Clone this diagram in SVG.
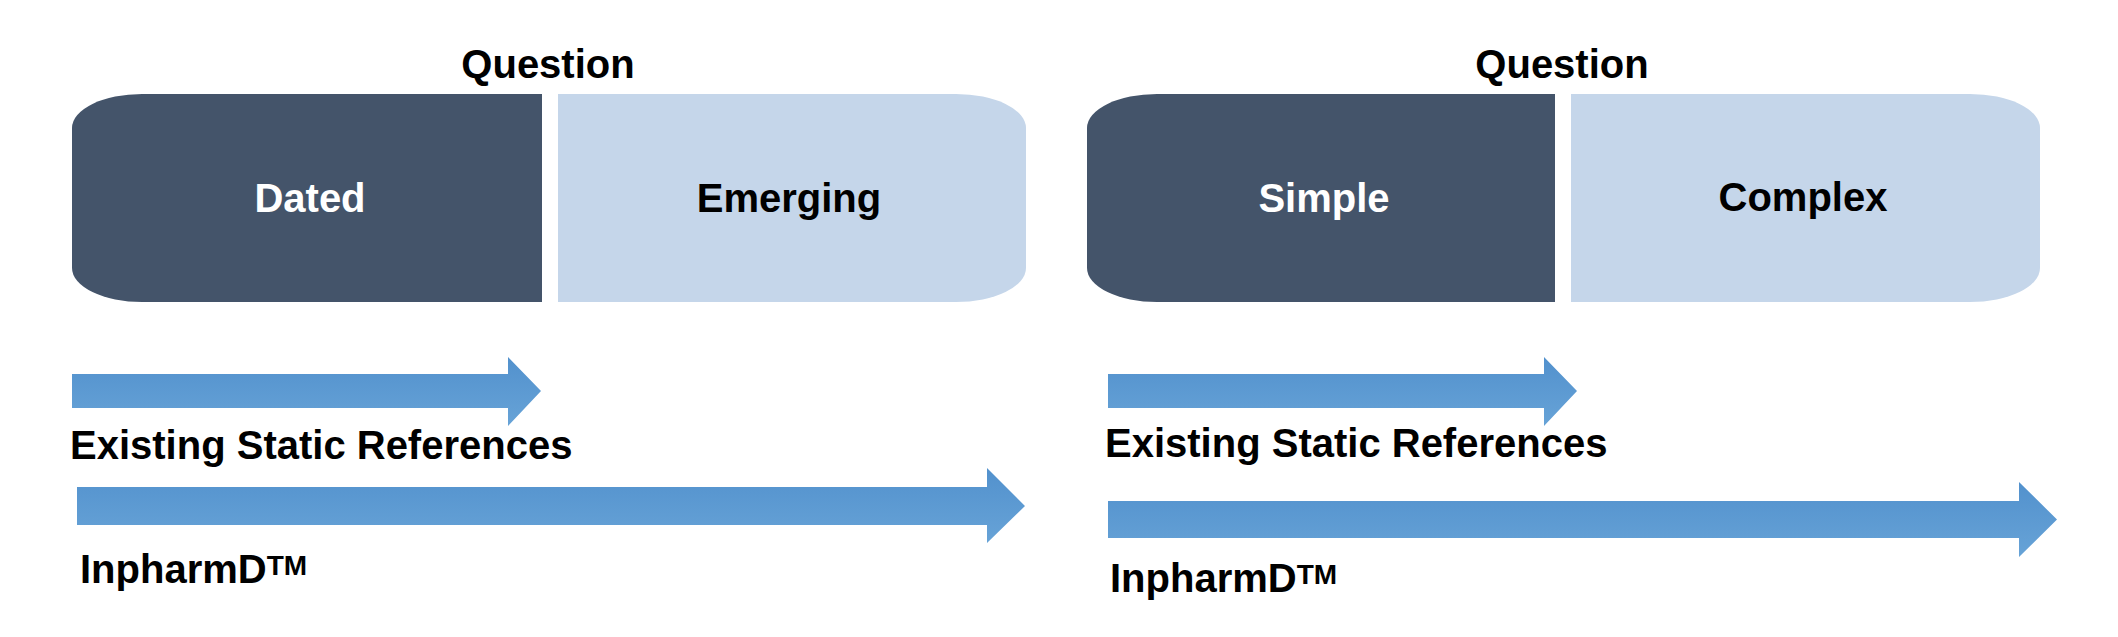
<svg xmlns="http://www.w3.org/2000/svg" width="2118" height="637" viewBox="0 0 2118 637">
<defs>
<linearGradient id="ag" x1="0" y1="0" x2="0" y2="1">
<stop offset="0" stop-color="#5291cd"/>
<stop offset="1" stop-color="#67a3d7"/>
</linearGradient>
<style>
text{font-family:"Liberation Sans",Arial,sans-serif;font-weight:bold;font-size:40px;fill:#000}
.dark{fill:#44546a}
.light{fill:#c5d6ea}
.w{fill:#fff}
.c{text-anchor:middle}
.arrow{fill:url(#ag)}
.tm{font-size:28px}
</style>
</defs>
<rect width="2118" height="637" fill="#fff"/>
<g id="title-left"><text class="c" x="548" y="78">Question</text></g>
<g id="title-right"><text class="c" x="1562" y="78">Question</text></g>
<g id="dated">
<path class="dark" d="M542 94 H142 A70 34 0 0 0 72 128 V268 A70 34 0 0 0 142 302 H542 Z"/>
<text class="c w" x="310" y="212">Dated</text>
</g>
<g id="emerging">
<path class="light" d="M558 94 H956 A70 34 0 0 1 1026 128 V268 A70 34 0 0 1 956 302 H558 Z"/>
<text class="c" x="789" y="212">Emerging</text>
</g>
<g id="simple">
<path class="dark" d="M1555 94 H1157 A70 34 0 0 0 1087 128 V268 A70 34 0 0 0 1157 302 H1555 Z"/>
<text class="c w" x="1324" y="212">Simple</text>
</g>
<g id="complex">
<path class="light" d="M1571 94 H1970 A70 34 0 0 1 2040 128 V268 A70 34 0 0 1 1970 302 H1571 Z"/>
<text class="c" x="1803" y="211">Complex</text>
</g>
<g id="connectors">
<path class="arrow" d="M72 374 H508 V357 L541 391 L508 426 V408 H72 Z"/>
<path class="arrow" d="M77 487 H987 V468 L1025 506 L987 543 V525 H77 Z"/>
<path class="arrow" d="M1108 374 H1544 V357 L1577 391 L1544 426 V408 H1108 Z"/>
<path class="arrow" d="M1108 501 H2019 V482 L2057 519.5 L2019 557 V538 H1108 Z"/>
</g>
<g id="label-existing-left"><text x="70" y="459">Existing Static References</text></g>
<g id="label-inpharmd-left"><text x="80" y="583">InpharmD<tspan class="tm" dy="-8">TM</tspan></text></g>
<g id="label-existing-right"><text x="1105" y="457">Existing Static References</text></g>
<g id="label-inpharmd-right"><text x="1110" y="592">InpharmD<tspan class="tm" dy="-8">TM</tspan></text></g>
</svg>
